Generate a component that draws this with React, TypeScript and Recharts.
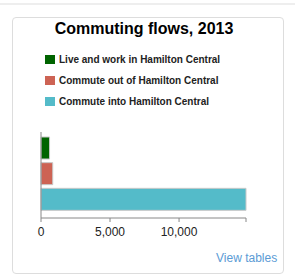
import { BarChart, Bar, XAxis, YAxis, Cell } from 'recharts'

const categories = [
  'Live and work in Hamilton Central',
  'Commute out of Hamilton Central',
  'Commute into Hamilton Central',
]
const values = [620, 850, 14850]
const colors = ['#006400', '#cd6354', '#54bbc9']
const xTicks = [0, 5000, 10000]

const data = categories.map((name, i) => ({ name, value: values[i] }))
const maxValue = Math.max(...values)

const font = 'Arial, "Liberation Sans", sans-serif'

function XTick(props: any) {
  const { x, y, payload } = props
  if (!xTicks.includes(payload.value)) return <g />
  return (
    <text x={x} y={y} dy="0.71em" textAnchor="middle" fontSize={12} fill="#222" fontFamily={font}>
      {payload.value.toLocaleString('en-US')}
    </text>
  )
}

export default function App() {
  return (
    <div style={{ position: 'absolute', left: 0, top: 0, width: 295, height: 275, background: '#fff', fontFamily: font }}>
      <div style={{ position: 'absolute', left: 0, top: 3, width: 295, height: 2, background: '#eeeeee' }} />
      <div
        style={{
          position: 'absolute',
          left: 12,
          top: 17,
          width: 272,
          height: 257,
          boxSizing: 'border-box',
          border: '1px solid #dddddd',
          borderRadius: 4,
        }}
      />
      <svg width={295} height={275} style={{ position: 'absolute', left: 0, top: 0 }}>
        <text x={144} y={34} textAnchor="middle" fontSize={16} fontWeight="bold" fill="#000" fontFamily={font}>
          Commuting flows, 2013
        </text>
        {categories.map((c, i) => (
          <g key={c}>
            <rect x={45} y={55 + i * 21} width={10} height={9} fill={colors[i]} />
            <text x={59} y={63 + i * 21} fontSize={10} fontWeight="bold" fill="#222" fontFamily={font}>
              {c}
            </text>
          </g>
        ))}
        <text x={216} y={262} fontSize={12} fill="#5b9bd5" fontFamily={font}>
          View tables
        </text>
      </svg>
      <div style={{ position: 'absolute', left: 0, top: 0 }}>
        <BarChart
          width={295}
          height={275}
          data={data}
          layout="vertical"
          margin={{ top: 132, right: 49, bottom: 27, left: 40 }}
        >
          <XAxis
            type="number"
            dataKey="value"
            domain={[0, maxValue]}
            ticks={[...xTicks, maxValue]}
            height={30}
            tickSize={4}
            tickMargin={5}
            stroke="#888"
            tick={<XTick />}
          />
          <YAxis
            type="category"
            dataKey="name"
            width={1}
            padding={{ top: 3, bottom: 6 }}
            stroke="#888"
            tickLine={false}
            tick={() => <g />}
          />
          <Bar dataKey="value" barSize={22} stroke="#c8c8c8" strokeWidth={1} isAnimationActive={false}>
            {data.map((d, i) => (
              <Cell key={d.name} fill={colors[i]} />
            ))}
          </Bar>
        </BarChart>
      </div>
    </div>
  )
}
